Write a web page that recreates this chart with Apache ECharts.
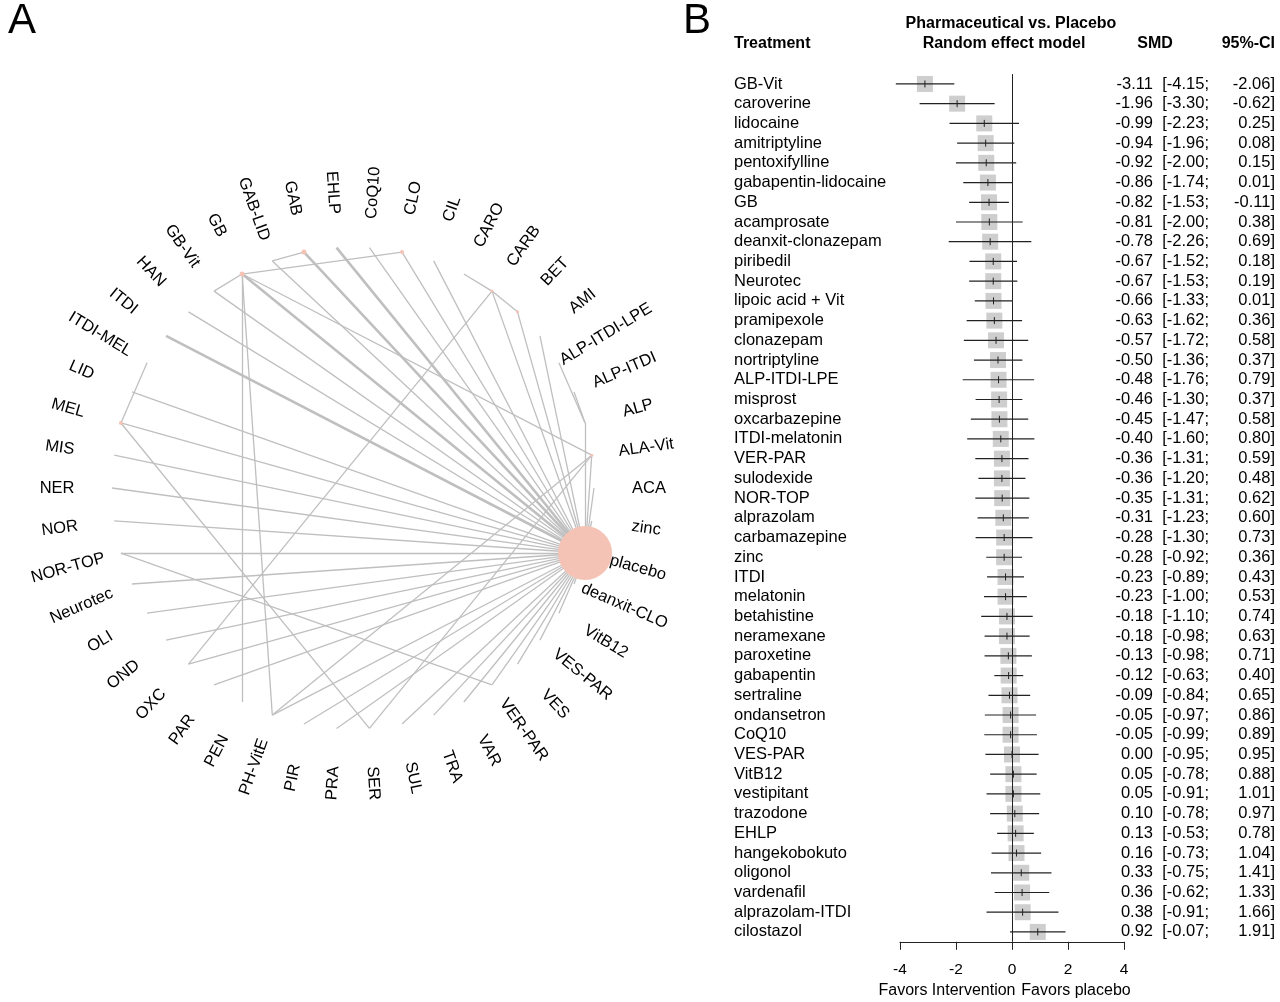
<!DOCTYPE html>
<html><head><meta charset="utf-8">
<script src="https://cdn.jsdelivr.net/npm/echarts@6/dist/echarts.min.js"></script>
<style>html,body{margin:0;padding:0;background:#fff}#c{width:1280px;height:1002px}</style>
</head><body><div id="c"></div>
<script>
// ---------- Panel A: network ----------
const nodes = ['ACA','ALA-Vit','ALP','ALP-ITDI','ALP-ITDI-LPE','AMI','BET','CARB','CARO','CIL','CLO','CoQ10',
  'EHLP','GAB','GAB-LID','GB','GB-Vit','HAN','ITDI','ITDI-MEL','LID','MEL','MIS','NER','NOR','NOR-TOP',
  'Neurotec','OLI','OND','OXC','PAR','PEN','PH-VitE','PIR','PRA','SER','SUL','TRA','VAR','VER-PAR','VES',
  'VES-PAR','VitB12','deanxit-CLO','placebo','zinc'];
const placeboLinks = [
  ['ACA',1],['ALA-Vit',1],['ALP',1],['AMI',1],['BET',1],['CARB',1],['CIL',1],['CLO',1],['CoQ10',1],
  ['EHLP',2],['GAB',2],['GAB-LID',1],['GB',2],['GB-Vit',1],['HAN',1],['ITDI',2],['LID',1],['MEL',1],
  ['MIS',1],['NER',1],['NOR',1],['NOR-TOP',1],['Neurotec',1],['OLI',1],['OND',1],['OXC',1],['PAR',1],
  ['PH-VitE',1],['PIR',1],['PRA',1],['SUL',1],['TRA',1],['VAR',1],['VER-PAR',1],['VES',1],['VES-PAR',1],
  ['VitB12',1],['deanxit-CLO',1],['zinc',1]];
const otherLinks = [
  ['GAB-LID','GAB',1],['GB','CLO',1],['GB','GB-Vit',1],['GB','PEN',1],['GB','PH-VitE',1],['GB','ALA-Vit',1],
  ['CARO','CARB',1],['CARB','BET',1],['CARB','OXC',1],['ITDI-MEL','MEL',1],['MEL','SER',1],
  ['NOR-TOP','VER-PAR',1],['PH-VitE','ALA-Vit',1],['SER','ALA-Vit',1],['ALP-ITDI-LPE','ALP',1],['ALP-ITDI','ALP',1]];

// ---------- Panel B: forest plot ----------
const treatments = ['GB-Vit','caroverine','lidocaine','amitriptyline','pentoxifylline','gabapentin-lidocaine','GB',
  'acamprosate','deanxit-clonazepam','piribedil','Neurotec','lipoic acid + Vit','pramipexole','clonazepam',
  'nortriptyline','ALP-ITDI-LPE','misprost','oxcarbazepine','ITDI-melatonin','VER-PAR','sulodexide','NOR-TOP',
  'alprazolam','carbamazepine','zinc','ITDI','melatonin','betahistine','neramexane','paroxetine','gabapentin',
  'sertraline','ondansetron','CoQ10','VES-PAR','VitB12','vestipitant','trazodone','EHLP','hangekobokuto',
  'oligonol','vardenafil','alprazolam-ITDI','cilostazol'];
const smd = [-3.11,-1.96,-0.99,-0.94,-0.92,-0.86,-0.82,-0.81,-0.78,-0.67,-0.67,-0.66,-0.63,-0.57,-0.50,-0.48,
  -0.46,-0.45,-0.40,-0.36,-0.36,-0.35,-0.31,-0.28,-0.28,-0.23,-0.23,-0.18,-0.18,-0.13,-0.12,-0.09,-0.05,-0.05,
  0.00,0.05,0.05,0.10,0.13,0.16,0.33,0.36,0.38,0.92];
const lower = [-4.15,-3.30,-2.23,-1.96,-2.00,-1.74,-1.53,-2.00,-2.26,-1.52,-1.53,-1.33,-1.62,-1.72,-1.36,-1.76,
  -1.30,-1.47,-1.60,-1.31,-1.20,-1.31,-1.23,-1.30,-0.92,-0.89,-1.00,-1.10,-0.98,-0.98,-0.63,-0.84,-0.97,-0.99,
  -0.95,-0.78,-0.91,-0.78,-0.53,-0.73,-0.75,-0.62,-0.91,-0.07];
const upper = [-2.06,-0.62,0.25,0.08,0.15,0.01,-0.11,0.38,0.69,0.18,0.19,0.01,0.36,0.58,0.37,0.79,0.37,0.58,
  0.80,0.59,0.48,0.62,0.60,0.73,0.36,0.43,0.53,0.74,0.63,0.71,0.40,0.65,0.86,0.89,0.95,0.88,1.01,0.97,0.78,
  1.04,1.41,1.33,1.66,1.91];
const xTicks = {min:-4, max:4, step:2};

// ---------- build ----------
const FONT = 'Liberation Sans, Arial, sans-serif';
const N = nodes.length;
const ang = i => i * 2 * Math.PI / N;
const visibleDots = {'placebo':54,'GB':5,'GAB':5,'CLO':4,'MEL':4,'BET':3,'CARB':3,'ALA-Vit':3};
const graphData = nodes.map((n,i)=>({
  name:n, value:[Math.cos(ang(i)), Math.sin(ang(i))],
  symbolSize: visibleDots[n] || 0
}));
const links = placeboLinks.map(([s,w])=>({source:s,target:'placebo',lineStyle:{width:w>1?2.6:1.3}}))
  .concat(otherLinks.map(([s,t,w])=>({source:s,target:t,lineStyle:{width:w>1?2.6:1.3}})));
const LR = 1.228;
const labelData = nodes.map((n,i)=>{
  const a = ang(i), deg = a*180/Math.PI;
  const rot = Math.cos(a) >= -1e-9 ? (deg > 180 ? deg-360 : deg) : deg-180;
  return {name:n, value:[LR*Math.cos(a), LR*Math.sin(a)], label:{rotate:rot}};
});

const smdStr = smd.map(v=>v.toFixed(2));
const ciLoStr = lower.map(l=>'[' + l.toFixed(2) + ';');
const ciHiStr = upper.map(u=>u.toFixed(2) + ']');

const chart = echarts.init(document.getElementById('c'), null, {renderer:'canvas'});
const TXT = '#000';
const catAxisBase = {gridIndex:1, type:'category', inverse:true, axisLine:{show:false}, axisTick:{show:false},
  splitLine:{show:false}};
const rowLabel = (align, margin) => ({interval:0, align:align, margin:margin, fontFamily:FONT, fontSize:16.5, color:TXT});
chart.setOption({
  animation:false,
  textStyle:{fontFamily:FONT},
  grid:[
    {left:15.6, top:150.6, width:674.8, height:674.8},
    {left:900, top:74.1, width:224, height:867.7}
  ],
  xAxis:[
    {gridIndex:0, type:'value', min:-1.4, max:1.4, show:false},
    {gridIndex:1, type:'value', min:xTicks.min, max:xTicks.max, interval:xTicks.step,
      axisLine:{show:true, lineStyle:{color:'#222', width:1}},
      axisTick:{show:true, length:8, lineStyle:{color:'#222'}},
      axisLabel:{fontFamily:FONT, fontSize:15.5, color:TXT, margin:20},
      splitLine:{show:false}}
  ],
  yAxis:[
    {gridIndex:0, type:'value', min:-1.4, max:1.4, show:false},
    Object.assign({}, catAxisBase, {data:treatments, axisLabel:rowLabel('left', 166)}),
    Object.assign({}, catAxisBase, {data:smdStr, position:'right', axisLabel:rowLabel('right', 29)}),
    Object.assign({}, catAxisBase, {data:ciLoStr, position:'right', axisLabel:rowLabel('right', 85)}),
    Object.assign({}, catAxisBase, {data:ciHiStr, position:'right', axisLabel:rowLabel('right', 151)})
  ],
  series:[
    {type:'graph', coordinateSystem:'cartesian2d', xAxisIndex:0, yAxisIndex:0, layout:'none',
      data:graphData, links:links, symbol:'circle',
      itemStyle:{color:'#f5c3b5'},
      lineStyle:{color:'#bfbfbf', opacity:1, curveness:0},
      label:{show:false}, emphasis:{disabled:true}, silent:true, z:2},
    {type:'scatter', xAxisIndex:0, yAxisIndex:0, data:labelData, symbolSize:0.01,
      itemStyle:{color:'#ffffff'}, silent:true, z:3, emphasis:{disabled:true},
      label:{show:true, position:'inside', formatter:'{b}', fontFamily:FONT, fontSize:16.5, color:TXT,
        opacity:1, textBorderWidth:0, align:'center', verticalAlign:'middle'}},
    {type:'scatter', xAxisIndex:1, yAxisIndex:1, symbol:'rect', symbolSize:16,
      data:smd.map((v,i)=>[v,i]), itemStyle:{color:'#c2c2c2'}, silent:true, z:2,
      markLine:{silent:true, symbol:['none','none'], label:{show:false},
        lineStyle:{color:'#222', width:1, type:'solid'}, data:[{xAxis:0}]}},
    {type:'custom', xAxisIndex:1, yAxisIndex:1, z:3, silent:true,
      data:lower.map((l,i)=>[l, upper[i], i, smd[i]]),
      encode:{x:[0,1,3], y:2},
      renderItem:function(params, api){
        const a = api.coord([api.value(0), api.value(2)]);
        const b = api.coord([api.value(1), api.value(2)]);
        const c = api.coord([api.value(3), api.value(2)]);
        return {type:'group', children:[
          {type:'line', shape:{x1:a[0], y1:a[1], x2:b[0], y2:b[1]}, style:{stroke:'#222', lineWidth:1.2}},
          {type:'line', shape:{x1:c[0], y1:c[1]-3.5, x2:c[0], y2:c[1]+3.5}, style:{stroke:'#222', lineWidth:1}}
        ]};
      }}
  ],
  graphic:[
    {type:'text', left:8, top:0, style:{text:'A', font:'42px '+FONT, fill:TXT}},
    {type:'text', left:683, top:0, style:{text:'B', font:'42px '+FONT, fill:TXT}},
    {type:'text', x:734, y:44, style:{text:'Treatment', font:'bold 16px '+FONT, fill:TXT, align:'left', verticalAlign:'middle'}},
    {type:'text', x:1011, y:24, style:{text:'Pharmaceutical vs. Placebo', font:'bold 16px '+FONT, fill:TXT, align:'center', verticalAlign:'middle'}},
    {type:'text', x:1004, y:44, style:{text:'Random effect model', font:'bold 16px '+FONT, fill:TXT, align:'center', verticalAlign:'middle'}},
    {type:'text', x:1155, y:44, style:{text:'SMD', font:'bold 16px '+FONT, fill:TXT, align:'center', verticalAlign:'middle'}},
    {type:'text', x:1275, y:44, style:{text:'95%-CI', font:'bold 16px '+FONT, fill:TXT, align:'right', verticalAlign:'middle'}},
    {type:'text', x:947, y:991, style:{text:'Favors Intervention', font:'16px '+FONT, fill:TXT, align:'center', verticalAlign:'middle'}},
    {type:'text', x:1076, y:991, style:{text:'Favors placebo', font:'16px '+FONT, fill:TXT, align:'center', verticalAlign:'middle'}}
  ]
});
</script></body></html>
